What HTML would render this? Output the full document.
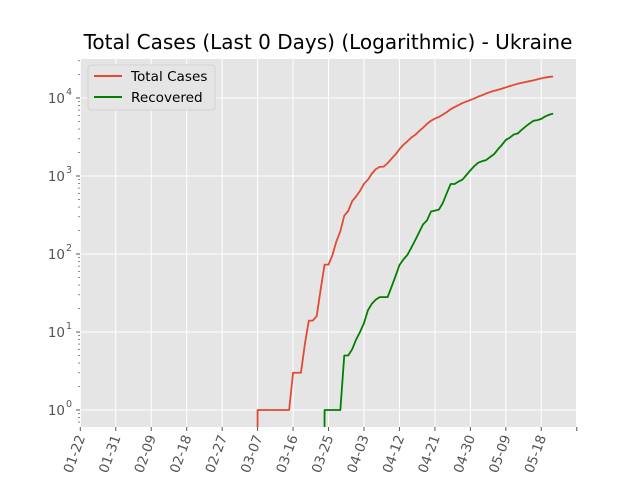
<!DOCTYPE html>
<html><head><meta charset="utf-8"><style>
html,body{margin:0;background:#fff;overflow:hidden;width:640px;height:480px;}
svg{display:block;font-family:"DejaVu Sans","Liberation Sans",sans-serif;}
</style></head><body>
<svg id="chart" width="640" height="480">
<rect x="0" y="0" width="640" height="480" fill="#fff"/>
<text x="328" y="49" font-size="20" text-anchor="middle" fill="#000">Total Cases (Last 0 Days) (Logarithmic) - Ukraine</text>
<rect id="plotbg" x="80" y="59" width="496" height="368" fill="#e5e5e5"/>
<g id="grid"></g><g id="axes"></g>
<defs><clipPath id="clip"><rect x="80" y="59" width="496" height="368"/></clipPath></defs>
<g id="series" clip-path="url(#clip)"></g>
<g>
<rect x="88" y="65" width="127" height="45" rx="3" fill="#e5e5e5" stroke="#cccccc" stroke-width="0.8"/>
<line x1="94" y1="76" x2="122" y2="76" stroke="#E24A33" stroke-width="2"/>
<text x="131" y="81" font-size="13.6" fill="#000">Total Cases</text>
<line x1="94" y1="97" x2="122" y2="97" stroke="#008000" stroke-width="2"/>
<text x="131" y="102" font-size="13.6" fill="#000">Recovered</text>
</g>
</svg>
<script>
const tickLabels = ["01-22","01-31","02-09","02-18","02-27","03-07","03-16","03-25","04-03","04-12","04-21","04-30","05-09","05-18",""];
const totalStart = 44;
const totalCases = [0,1,1,1,1,1,1,1,1,1,3,3,3,7,14,14,16,35,73,73,97,145,196,310,356,475,548,645,794,897,1072,1225,1308,1319,1462,1668,1892,2203,2511,2777,3102,3372,3764,4161,4662,5106,5449,5710,6125,6592,7170,7647,8125,8617,9009,9410,9866,10406,10861,11411,11913,12331,12697,13184,13691,14195,14710,15232,15648,16023,16425,16847,17330,17858,18291,18616,18876];
const recStart = 61;
const recovered = [0,1,1,1,1,1,5,5,6,8,10,13,19,23,26,28,28,28,38,52,72,85,97,120,150,190,240,270,350,360,370,450,600,790,790,850,900,1030,1180,1340,1480,1550,1600,1750,1900,2200,2500,2900,3100,3400,3500,3900,4300,4700,5100,5200,5400,5800,6100,6300];
const yDecades = [0,1,2,3,4];

const NS="http://www.w3.org/2000/svg";
const X0=80.3, PXD=3.94, Y0=410, PXDEC=78;
function xs(d){return X0+d*PXD;}
function ys(v){const l=v>0?Math.log10(v):-50;return Y0-l*PXDEC;}
function mk(tag,attrs,parent){const e=document.createElementNS(NS,tag);for(const k in attrs)e.setAttribute(k,attrs[k]);parent.appendChild(e);return e;}
const grid=document.getElementById('grid'), axes=document.getElementById('axes'), ser=document.getElementById('series');

tickLabels.forEach((lab,i)=>{
  const x=xs(i*9);
  if(x<=577){
    const g=mk('line',{x1:x,y1:59,x2:x,y2:427,stroke:'#fff','stroke-width':1},grid);
    
    
    const t=mk('line',{x1:x,y1:427,x2:x,y2:431,stroke:'#555','stroke-width':1},axes);
    
    
  }
  if(lab){
    const tx=mk('text',{x:x+5,y:437,'font-size':13.5,fill:'#555','text-anchor':'end',transform:'rotate(-70 '+(x+5)+' 437)'},axes);
    tx.textContent=lab;
    
    
  }
});
yDecades.forEach(dc=>{
  const y=ys(Math.pow(10,dc));
  const g=mk('line',{x1:80,y1:y,x2:576,y2:y,stroke:'#fff','stroke-width':1},grid);
  
  
  const t=mk('line',{x1:76,y1:y,x2:80,y2:y,stroke:'#555','stroke-width':1},axes);
  
  
  const tx=mk('text',{x:65,y:y+5,'font-size':13.5,fill:'#555','text-anchor':'end'},axes);
  tx.textContent='10';
  
  
  const sp=mk('text',{x:66,y:y-3,'font-size':9.5,fill:'#555'},axes);
  sp.textContent=String(dc);
  
  
});
for(let dc=-1;dc<=4;dc++){
  for(let m=2;m<=9;m++){
    const y=ys(m*Math.pow(10,dc));
    if(y<59||y>427)continue;
    const t=mk('line',{x1:78,y1:y,x2:80,y2:y,stroke:'#555','stroke-width':0.7},axes);
    
    
  }
}
function drawSeries(start,vals,color,name){
  const pts=vals.map((v,i)=>xs(start+i).toFixed(2)+','+Math.min(ys(v),2000).toFixed(2)).join(' ');
  const p=mk('polyline',{points:pts,fill:'none',stroke:color,'stroke-width':1.8,'stroke-linejoin':'round'},ser);
  
  
}
drawSeries(totalStart,totalCases,'#E24A33','total-cases-line');
drawSeries(recStart,recovered,'#008000','recovered-line');
</script>
</body></html>
